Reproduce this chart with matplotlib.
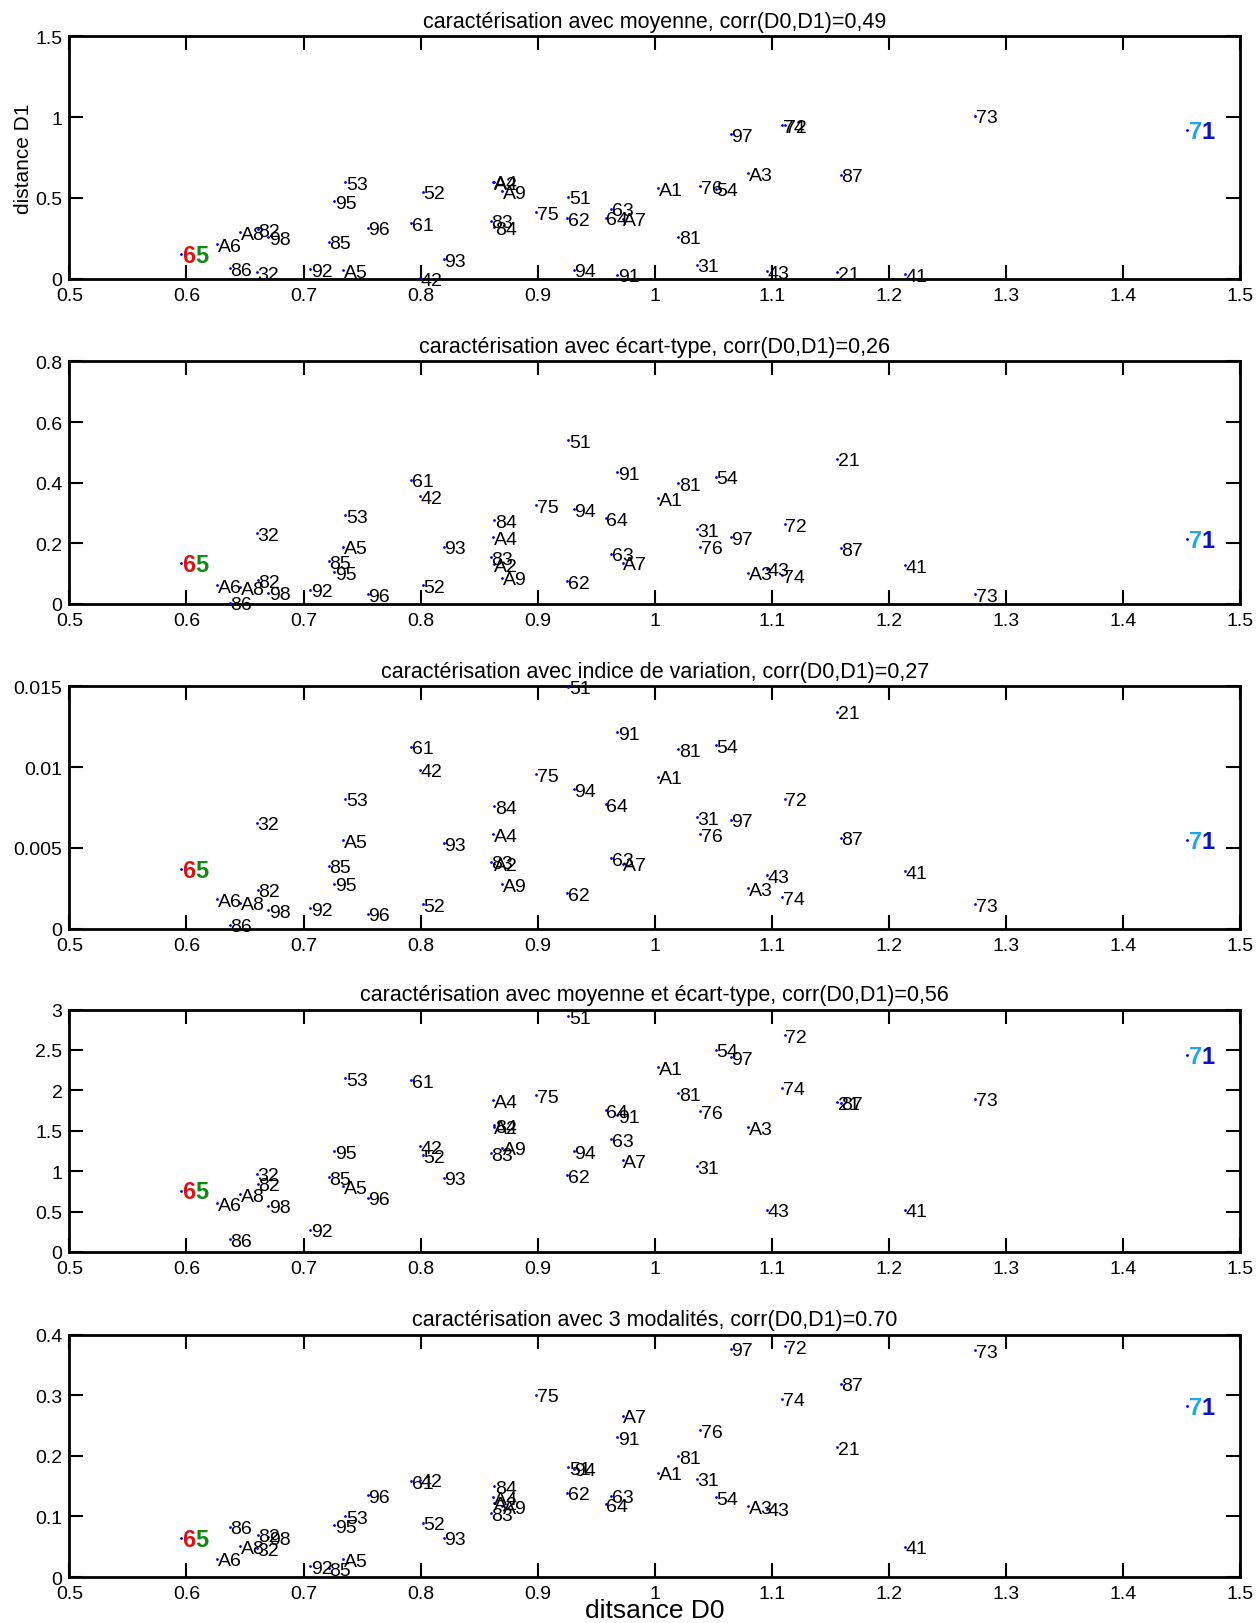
import matplotlib
matplotlib.use("Agg")
import matplotlib.pyplot as plt
import numpy as np
from matplotlib.ticker import FormatStrFormatter, MultipleLocator

plt.rcParams['font.family'] = ['Liberation Sans', 'DejaVu Sans']

# department / region codes
labels = ['21', '31', '32', '41', '42', '43', '51', '52', '53', '54',
          '61', '62', '63', '64', '65', '71', '72', '73', '74', '75',
          '76', '81', '82', '83', '84', '85', '86', '87', '91', '92',
          '93', '94', '95', '96', '97', '98', 'A1', 'A2', 'A3', 'A4',
          'A5', 'A6', 'A7', 'A8', 'A9']

# distance D0 (common x for all panels)
d0 = [1.156, 1.036, 0.660, 1.214, 0.7995, 1.096, 0.926, 0.802, 0.7355, 1.052,
      0.792, 0.925, 0.963, 0.958, 0.595, 1.455, 1.111, 1.274, 1.109, 0.899,
      1.039, 1.020, 0.661, 0.860, 0.8627, 0.7214, 0.637, 1.159, 0.968, 0.7056,
      0.8197, 0.9307, 0.726, 0.7547, 1.065, 0.670, 1.003, 0.8625, 1.0796, 0.862,
      0.734, 0.6265, 0.9727, 0.646, 0.8695]

# distance D1 for each characterisation
d1_moyenne = [0.041, 0.086, 0.041, 0.027, 0.002, 0.047, 0.508, 0.539, 0.597, 0.556,
              0.342, 0.374, 0.432, 0.377, 0.155, 0.920, 0.951, 1.008, 0.951, 0.412,
              0.574, 0.259, 0.305, 0.358, 0.317, 0.230, 0.066, 0.644, 0.025, 0.058,
              0.119, 0.056, 0.481, 0.315, 0.893, 0.255, 0.560, 0.597, 0.652, 0.600,
              0.051, 0.214, 0.370, 0.286, 0.543]

d1_ecart = [0.479, 0.246, 0.233, 0.127, 0.355, 0.116, 0.541, 0.061, 0.293, 0.419,
            0.410, 0.074, 0.166, 0.282, 0.1355, 0.214, 0.263, 0.031, 0.094, 0.325,
            0.189, 0.398, 0.078, 0.153, 0.276, 0.140, 0.004, 0.184, 0.434, 0.046,
            0.189, 0.313, 0.105, 0.031, 0.219, 0.037, 0.349, 0.130, 0.103, 0.219,
            0.188, 0.061, 0.1355, 0.055, 0.086]

d1_indice = [0.01344, 0.00689, 0.00656, 0.00355, 0.00984, 0.00332, 0.01498, 0.00152, 0.00805, 0.01137,
             0.01127, 0.00221, 0.00436, 0.00770, 0.00369, 0.00551, 0.00805, 0.00152, 0.00197, 0.00955,
             0.00586, 0.01113, 0.00242, 0.00414, 0.00758, 0.00389, 0.00025, 0.00564, 0.01217, 0.00127,
             0.00531, 0.00865, 0.00279, 0.00094, 0.00676, 0.00115, 0.00941, 0.00402, 0.00252, 0.00586,
             0.00549, 0.00184, 0.00402, 0.00162, 0.00275]

d1_moy_ecart = [1.855, 1.058, 0.967, 0.521, 1.310, 0.521, 2.917, 1.198, 2.149, 2.504,
                2.124, 0.950, 1.397, 1.752, 0.760, 2.434, 2.682, 1.897, 2.033, 1.938,
                1.740, 1.967, 0.843, 1.223, 1.566, 0.926, 0.157, 1.845, 1.694, 0.273,
                0.917, 1.248, 1.248, 0.669, 2.413, 0.574, 2.289, 1.550, 1.545, 1.876,
                0.810, 0.603, 1.132, 0.711, 1.289]

d1_modalites = [0.214, 0.162, 0.0478, 0.050, 0.161, 0.1126, 0.181, 0.0896, 0.1005, 0.132,
                0.1582, 0.139, 0.1346, 0.1198, 0.0643, 0.283, 0.381, 0.374, 0.2945, 0.301,
                0.242, 0.1995, 0.0698, 0.105, 0.150, 0.015, 0.083, 0.319, 0.2308, 0.0181,
                0.0648, 0.1786, 0.0852, 0.1352, 0.377, 0.0654, 0.172, 0.1225, 0.117, 0.1319,
                0.0291, 0.0302, 0.2665, 0.0511, 0.117]

titles = ["caractérisation avec moyenne, corr(D0,D1)=0,49",
          "caractérisation avec écart-type, corr(D0,D1)=0,26",
          "caractérisation avec indice de variation, corr(D0,D1)=0,27",
          "caractérisation avec moyenne et écart-type, corr(D0,D1)=0,56",
          "caractérisation avec 3 modalités, corr(D0,D1)=0.70"]
panels = [d1_moyenne, d1_ecart, d1_indice, d1_moy_ecart, d1_modalites]
ymax = [1.5, 0.8, 0.015, 3, 0.4]
ystep = [0.5, 0.2, 0.005, 0.5, 0.1]

# two-coloured highlighted labels
special = {'65': ('#e01010', '#108a10'), '71': ('#1ea8ea', '#0a14c4')}

fig = plt.figure(figsize=(12.57, 16.24), dpi=100)
bottoms = [0.8278, 0.6276, 0.4275, 0.2285, 0.0283]
height = 0.1492

for i, d1 in enumerate(panels):
    ax = fig.add_axes([0.0552, bottoms[i], 0.9313, height])
    ax.plot(d0, d1, linestyle='none', marker='.', ms=2, color='blue', zorder=3)
    for lab, x, y in zip(labels, d0, d1):
        if lab in special:
            c1, c2 = special[lab]
            ax.annotate(lab[0], (x, y), xytext=(1, -1), textcoords='offset points',
                        ha='left', va='center', fontsize=17, fontweight='bold', color=c1)
            ax.annotate(lab[1], (x, y), xytext=(10.5, -1), textcoords='offset points',
                        ha='left', va='center', fontsize=17, fontweight='bold', color=c2)
        else:
            ax.annotate(lab, (x, y), xytext=(0.5, -1.5), textcoords='offset points',
                        ha='left', va='center', fontsize=14, color='black')
    ax.set_xlim(0.5, 1.5)
    ax.set_ylim(0, ymax[i])
    ax.xaxis.set_major_locator(MultipleLocator(0.1))
    ax.yaxis.set_major_locator(MultipleLocator(ystep[i]))
    ax.xaxis.set_major_formatter(FormatStrFormatter('%g'))
    ax.yaxis.set_major_formatter(FormatStrFormatter('%g'))
    ax.tick_params(direction='in', length=10, width=1.5, top=True, right=True,
                   labelsize=14)
    ax.tick_params(axis='x', pad=6)
    ax.tick_params(axis='y', pad=5)
    for sp in ax.spines.values():
        sp.set_linewidth(2)
    ax.set_title(titles[i], fontsize=15.5, pad=7)

    if i == 0:
        ax.set_ylabel("distance D1", fontsize=15, labelpad=2)
    if i == 4:
        ax.set_xlabel("ditsance D0", fontsize=19, labelpad=-3)

fig.savefig("out.png", dpi=100)
